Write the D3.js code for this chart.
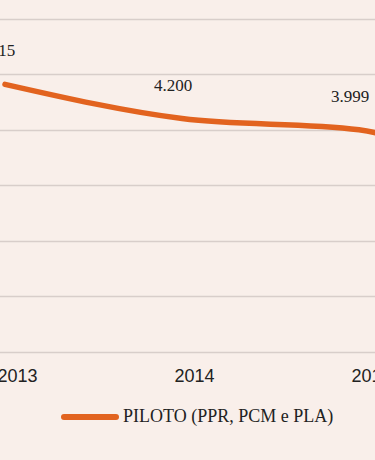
<!DOCTYPE html>
<html>
<head>
<meta charset="utf-8">
<script src="https://cdn.jsdelivr.net/npm/d3@7"></script>
<style>
  html, body { margin: 0; padding: 0; background: #f9efea; }
  svg { display: block; font-family: "Liberation Serif", "DejaVu Serif", serif; }
  .grid line { stroke: #d8ceca; stroke-width: 1.5; }
  .x-axis text { fill: #222; font-size: 18px; }
  .value-label { fill: #222; font-size: 17px; }
</style>
</head>
<body>
<div id="chart"></div>
<script>
const years = ['2013', '2014', '2015', '2016'];
const piloto = [4815, 4200, 3999, 2200];
const valueLabels = ['4.815', '4.200', '3.999', '2.200'];
const yTicks = [0, 1000, 2000, 3000, 4000, 5000, 6000];
const seriesName = 'PILOTO (PPR, PCM e PLA)';

const width = 375;
const height = 460;

const svg = d3.select('#chart')
  .append('svg')
  .attr('width', width)
  .attr('height', height);

svg.append('rect')
  .attr('width', width)
  .attr('height', height)
  .attr('fill', '#f9efea');

const x = d3.scalePoint()
  .domain(years)
  .range([5, 536]);

const y = d3.scaleLinear()
  .domain([0, 6000])
  .range([352, 18.5]);

// horizontal grid
svg.append('g')
  .attr('class', 'grid')
  .selectAll('line')
  .data(yTicks)
  .enter()
  .append('line')
  .attr('x1', 0)
  .attr('x2', width)
  .attr('y1', (d) => Math.round(y(d)) + 0.5)
  .attr('y2', (d) => Math.round(y(d)) + 0.5);

// category axis
svg.append('g')
  .attr('class', 'x-axis')
  .attr('transform', `translate(0,${y(0)})`)
  .call(d3.axisBottom(x).tickSize(0).tickPadding(17))
  .call((axis) => axis.select('.domain').remove())
  .selectAll('text')
  .attr('dx', 12)
  .attr('font-family', null)
  .attr('font-size', null);

const line = d3.line()
  .x((d, i) => x(years[i]))
  .y((d) => y(d))
  .curve(d3.curveMonotoneX);

svg.append('path')
  .datum(piloto)
  .attr('fill', 'none')
  .attr('stroke', '#e2631f')
  .attr('stroke-width', 5.5)
  .attr('stroke-linecap', 'round')
  .attr('stroke-linejoin', 'round')
  .attr('d', line);

svg.selectAll('.value-label')
  .data(piloto)
  .enter()
  .append('text')
  .attr('class', 'value-label')
  .attr('x', (d, i) => x(years[i]) - 9)
  .attr('y', (d) => y(d) - 28)
  .attr('text-anchor', 'middle')
  .text((d, i) => valueLabels[i]);

// legend
const legend = svg.append('g')
  .attr('transform', 'translate(62,417)');

legend.append('line')
  .attr('x1', 2)
  .attr('x2', 54)
  .attr('y1', 0)
  .attr('y2', 0)
  .attr('stroke', '#e2631f')
  .attr('stroke-width', 6)
  .attr('stroke-linecap', 'round');

legend.append('text')
  .attr('x', 61)
  .attr('y', 5)
  .attr('fill', '#222')
  .attr('font-size', 18)
  .text(seriesName);
</script>
</body>
</html>
